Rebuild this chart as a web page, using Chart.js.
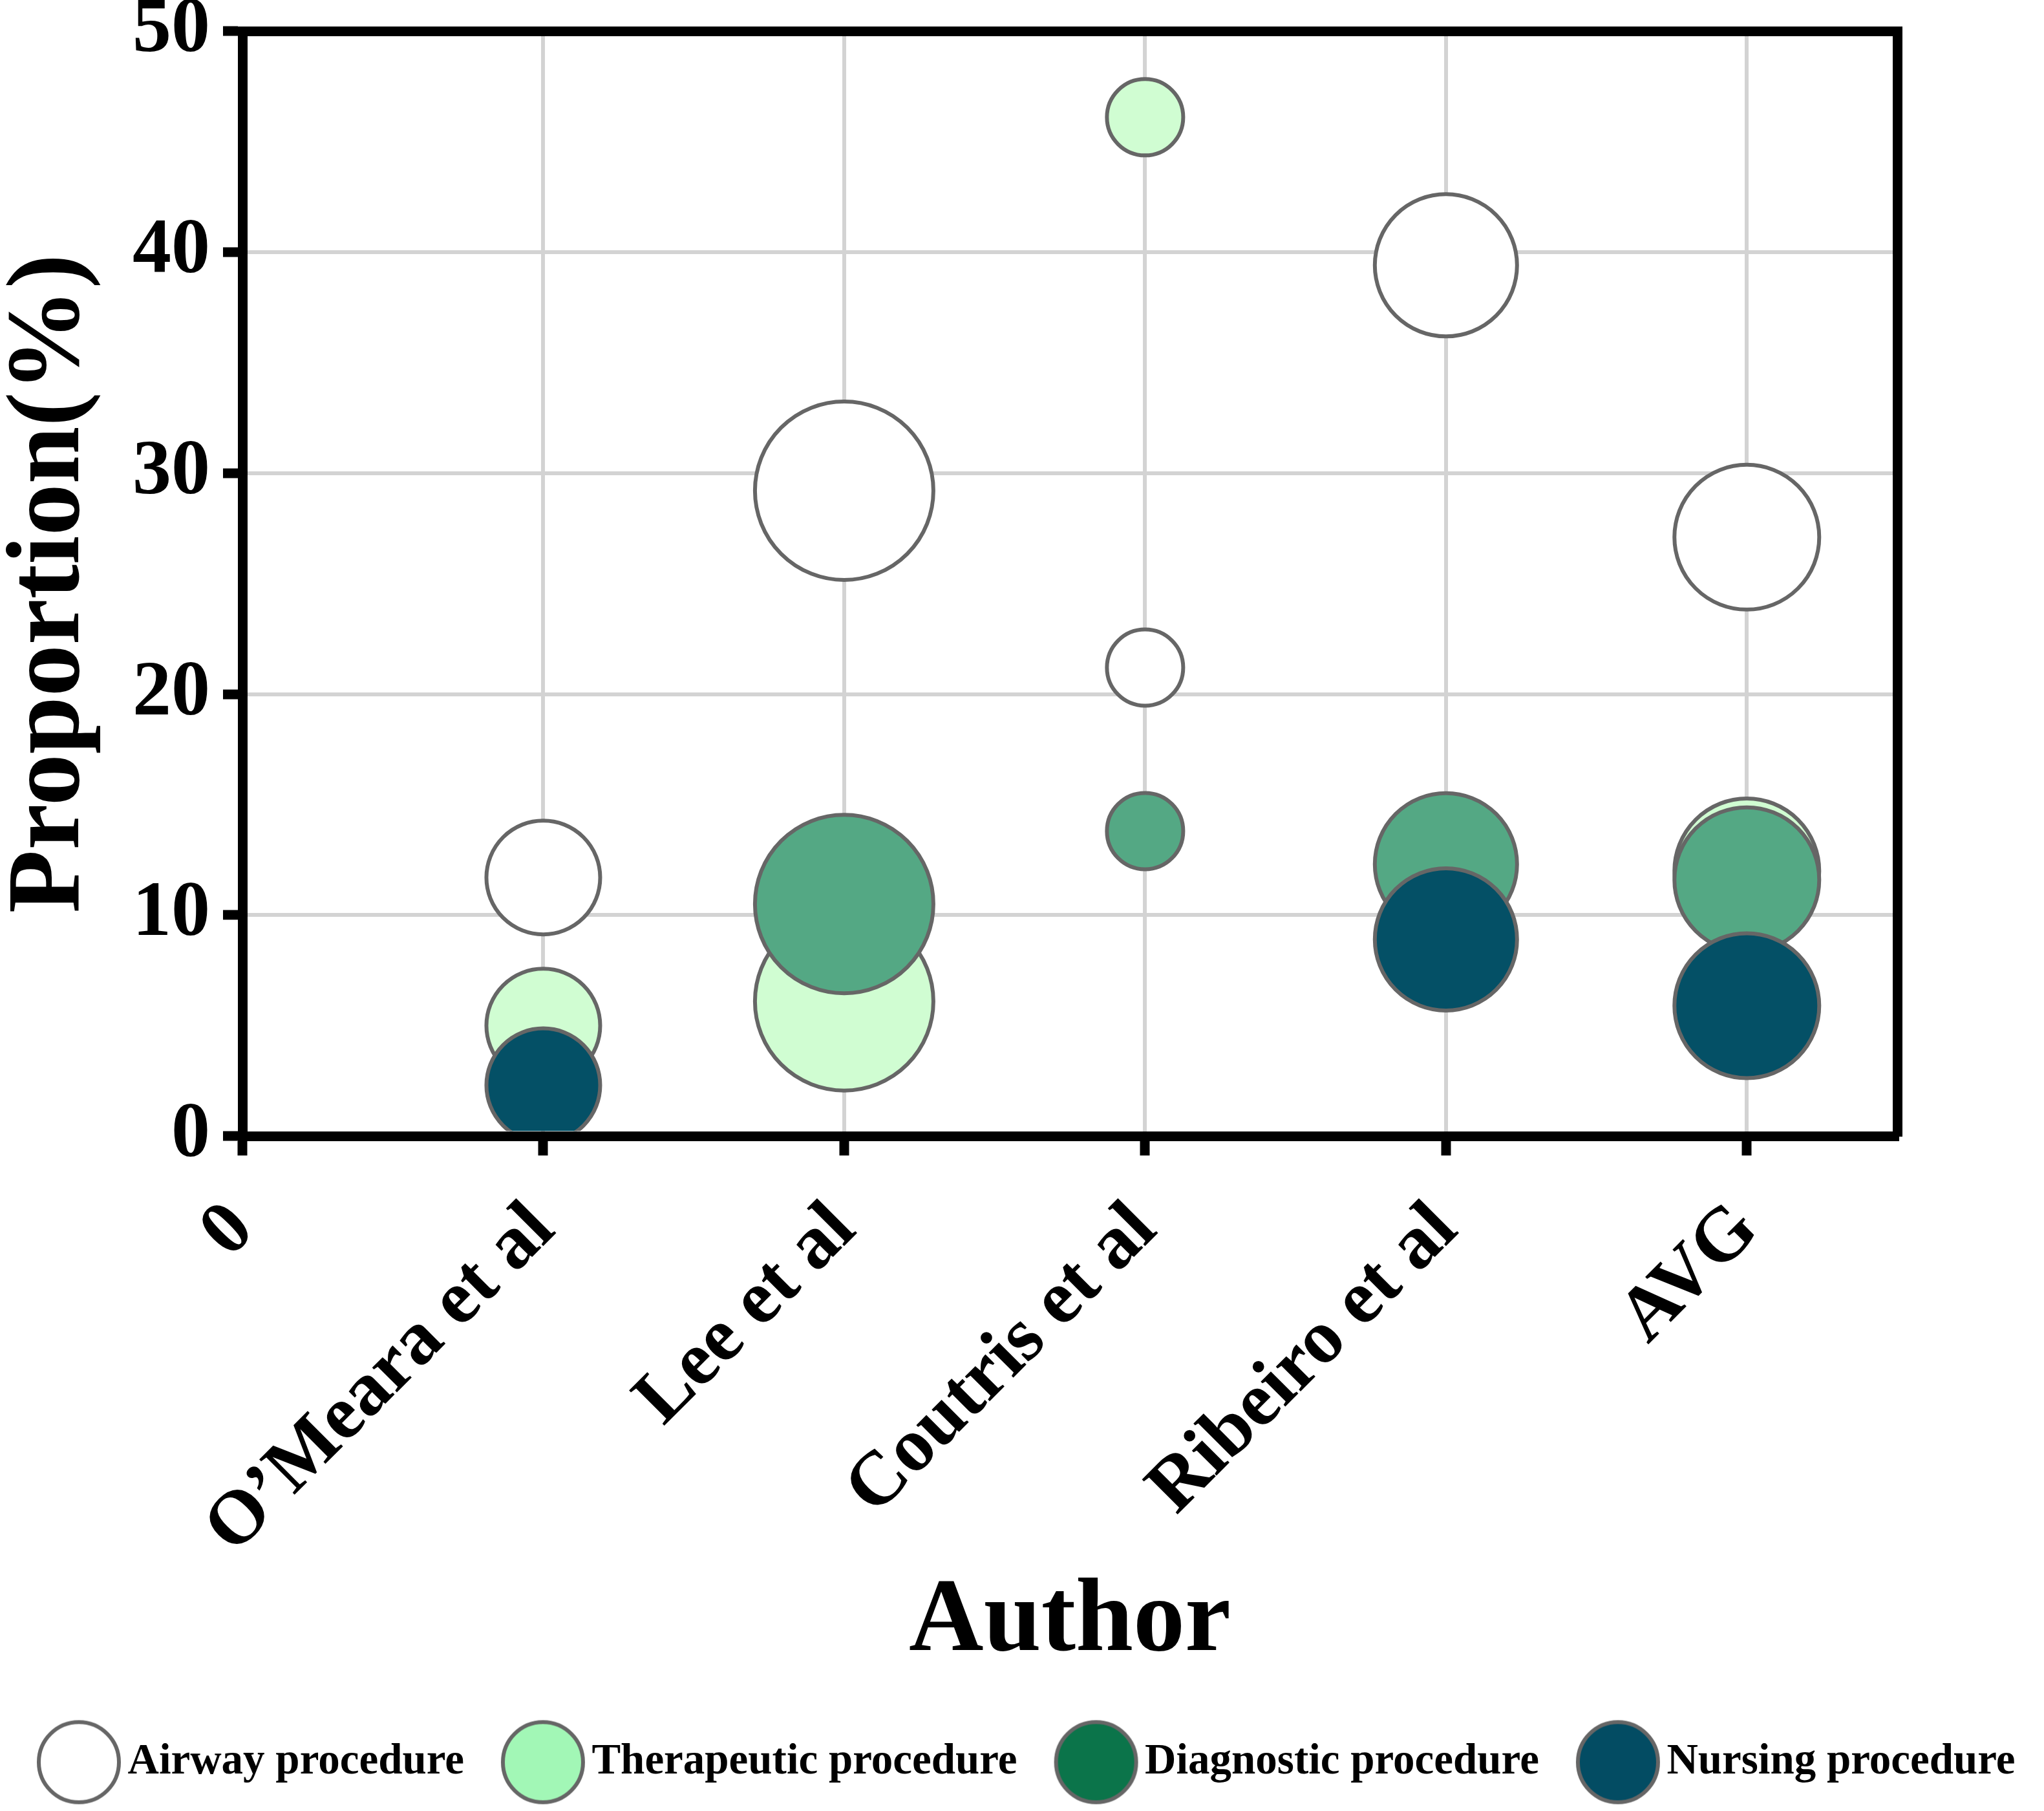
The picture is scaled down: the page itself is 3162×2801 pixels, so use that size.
<!DOCTYPE html>
<html>
<head>
<meta charset="utf-8">
<script src="https://cdn.jsdelivr.net/npm/chart.js@4.4.1/dist/chart.umd.min.js"></script>
<style>
  html, body { margin: 0; padding: 0; background: #ffffff; }
  #wrap { width: 3162px; height: 2801px; position: relative; }
</style>
</head>
<body>
<div id="wrap"><canvas id="c"></canvas></div>
<script>
// ---- data ----
const authors = ["O\u2019Meara et al", "Lee et al", "Coutris et al", "Ribeiro et al", "AVG"];
const xTickLabels = ["0", "O\u2019Meara et al", "Lee et al", "Coutris et al", "Ribeiro et al", "AVG"];
const yTicks = [0, 10, 20, 30, 40, 50];
// bubble magnitude per study (radius in px)
const bubbleSize = [88, 138, 59, 110, 112];
const airway      = [11.7, 29.2, 21.2, 39.4, 27.1];
const therapeutic = [5.0, 6.1, 46.1, null, 12.0];
const diagnostic  = [null, 10.5, 13.8, 12.3, 11.6];
const nursing     = [2.3, null, null, 8.9, 5.9];
const seriesNames = ["Airway procedure", "Therapeutic procedure", "Diagnostic procedure", "Nursing procedure"];

// ---- styles ----
const FONT = "'Liberation Serif', 'Times New Roman', serif";
const plotColors   = ["#ffffff", "#d0fdd2", "#54a884", "#045066"];
const legendColors = ["#ffffff", "#a2f7b6", "#0b744a", "#034c63"];
const edge = "#666666";

function toPoints(vals) {
  const pts = [];
  vals.forEach((v, i) => { if (v !== null) pts.push({ x: i + 1, y: v, r: bubbleSize[i] }); });
  return pts;
}
const allSeries = [airway, therapeutic, diagnostic, nursing];

function legendImage(color) {
  const r = 62, off = 22, bw = 6;
  const cv = document.createElement('canvas');
  cv.width = 2 * (r + bw + off);
  cv.height = 2 * (r + bw);
  const g = cv.getContext('2d');
  g.beginPath();
  g.arc(cv.width / 2 + off, cv.height / 2, r, 0, Math.PI * 2);
  g.fillStyle = color; g.fill();
  g.lineWidth = bw; g.strokeStyle = edge; g.stroke();
  return cv;
}
const legendImgs = legendColors.map(legendImage);

const datasets = allSeries.map((vals, k) => ({
  label: seriesNames[k],
  data: toPoints(vals),
  order: allSeries.length - k,
  backgroundColor: plotColors[k],
  borderColor: edge,
  borderWidth: 6,
  hoverBorderWidth: 6,
  clip: { left: false, top: false, right: false, bottom: -8 }
}));

// let the legend markers extend below the legend box without being clipped
const legendRoom = {
  id: 'legendRoom',
  afterLayout(chart) {
    if (chart.legend) { chart.legend.bottom = chart.height; }
  }
};

new Chart(document.getElementById('c'), {
  type: 'bubble',
  data: { datasets },
  plugins: [legendRoom],
  options: {
    responsive: true,
    maintainAspectRatio: false,
    devicePixelRatio: 1,
    animation: false,
    events: [],
    layout: { autoPadding: false, padding: { left: 0, right: 0, top: 0, bottom: 32 } },
    plugins: {
      tooltip: { enabled: false },
      legend: {
        position: 'bottom',
        align: 'start',
        labels: {
          usePointStyle: true,
          pointStyleWidth: 128,
          padding: 36,
          color: '#000',
          font: { family: FONT, size: 67, weight: 'bold', lineHeight: 1 },
          generateLabels: () => seriesNames.map((n, k) => ({
            text: n, pointStyle: legendImgs[k], fillStyle: legendColors[k],
            strokeStyle: edge, lineWidth: 6, hidden: false, datasetIndex: k, fontColor: '#000'
          }))
        }
      }
    },
    scales: {
      x: {
        type: 'linear', position: 'bottom', min: 0, max: 5.5,
        afterBuildTicks: (axis) => { axis.ticks = xTickLabels.map((_, i) => ({ value: i })); },
        ticks: {
          stepSize: 1, autoSkip: false, minRotation: 45, maxRotation: 45, padding: 55,
          color: '#000',
          font: { family: FONT, size: 118, weight: 'bold', lineHeight: 1 },
          callback: (v) => xTickLabels[v] !== undefined ? xTickLabels[v] : ''
        },
        grid: { color: '#d3d3d3', lineWidth: 6, tickLength: 30, tickWidth: 15, tickColor: '#000', drawTicks: true },
        border: { display: true, color: '#000', width: 15 },
        title: {
          display: true, text: 'Author', color: '#000',
          font: { family: FONT, size: 160, weight: 'bold', lineHeight: 0.8 },
          padding: { top: -34, bottom: 81 }
        }
      },
      y: {
        type: 'linear', position: 'left', min: 0, max: 50,
        afterBuildTicks: (axis) => { axis.ticks = yTicks.map(v => ({ value: v })); },
        ticks: {
          stepSize: 10, padding: 20, color: '#000',
          font: { family: FONT, size: 120, weight: 'bold', lineHeight: 0.45 }
        },
        grid: { color: '#d3d3d3', lineWidth: 6, tickLength: 30, tickWidth: 15, tickColor: '#000', drawTicks: true },
        border: { display: true, color: '#000', width: 15 },
        title: {
          display: true, text: 'Proportion(%)', color: '#000',
          font: { family: FONT, size: 160, weight: 'bold', lineHeight: 1 },
          padding: { top: 0, bottom: 25 }
        }
      },
      x2: {
        type: 'linear', position: 'top', min: 0, max: 5.5,
        ticks: { display: false },
        grid: { display: false, drawTicks: false },
        border: { display: true, color: '#000', width: 15 },
        afterFit: (s) => { s.height = 48; }
      },
      y2: {
        type: 'linear', position: 'right', min: 0, max: 50,
        ticks: { display: false },
        grid: { display: false, drawTicks: false },
        border: { display: true, color: '#000', width: 15 },
        afterFit: (s) => { s.width = 227; }
      }
    }
  }
});
</script>
</body>
</html>
